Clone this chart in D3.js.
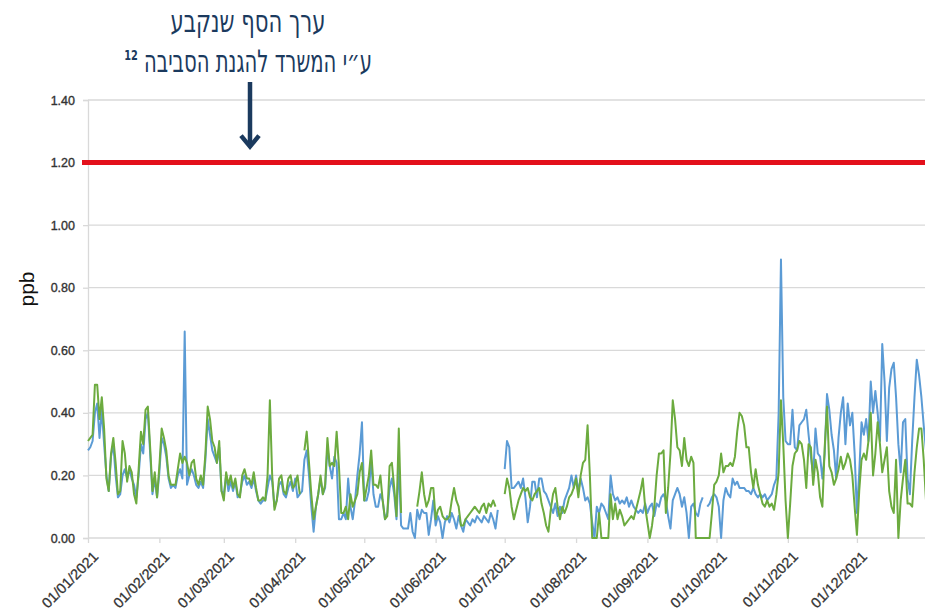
<!DOCTYPE html>
<html><head><meta charset="utf-8">
<script src="https://cdn.jsdelivr.net/npm/d3@7"></script>
<style>body{margin:0;background:#fff;} svg{display:block;font-family:"Liberation Sans",Arial,sans-serif;}</style>
</head><body><svg id="c" width="925" height="611"></svg>
<script>
// ---------------- data ----------------
const startDate = "2021-01-01";
const monthTicks = ["2021-01-01","2021-02-01","2021-03-01","2021-04-01","2021-05-01","2021-06-01",
                    "2021-07-01","2021-08-01","2021-09-01","2021-10-01","2021-11-01","2021-12-01"];
const yTicks = [0, 0.2, 0.4, 0.6, 0.8, 1.0, 1.2, 1.4];
const thresholdValue = 1.2;
const yLabel = "ppb";
const annotationLines = ["ערך הסף שנקבע", "ע״י המשרד להגנת הסביבה"];
const annotationNote = "12";

// daily values, one row per month (null = no data)
const blueSeries = [
  0.28,0.29,0.31,0.40,0.43,0.32,0.41,0.30,0.20,0.15,0.26,0.30,0.20,0.13,0.14,0.20,0.22,0.19,0.22,0.19,0.17,0.13,0.20,0.30,0.27,0.38,0.40,0.27,0.14,0.19,0.13,
  0.21,0.32,0.30,0.26,0.19,0.16,0.17,0.16,0.20,0.22,0.19,0.66,0.17,0.20,0.22,0.20,0.17,0.16,0.18,0.16,0.25,0.38,0.33,0.28,0.26,0.24,0.29,0.15,
  0.14,0.20,0.15,0.18,0.15,0.18,0.13,0.14,0.18,0.20,0.17,0.18,0.16,0.19,0.15,0.12,0.11,0.12,0.12,0.16,0.20,0.18,0.10,0.12,0.17,0.18,0.14,0.13,0.16,0.18,0.15,
  0.19,0.13,0.14,0.15,0.25,0.28,0.20,0.10,0.02,0.10,0.14,0.19,0.14,0.16,0.29,0.23,0.19,0.26,0.24,0.06,0.06,0.08,0.06,0.19,0.10,0.06,0.12,0.20,0.27,0.37,
  0.12,0.12,0.15,0.25,0.14,0.10,0.10,0.14,0.12,0.06,0.08,0.16,0.19,0.14,0.06,0.24,0.04,0.03,0.03,0.03,0.08,0.02,0.00,0.09,0.06,0.09,0.08,0.08,0.01,0.06,0.12,
  0.04,0.07,0.05,0.00,0.05,0.07,0.05,0.08,0.06,0.03,0.07,0.04,0.02,0.06,0.05,0.04,0.06,0.05,0.07,0.06,0.05,0.07,0.06,0.05,0.08,0.06,0.03,0.09,null,null,
  0.22,0.31,0.29,0.16,0.16,0.17,0.18,0.16,0.19,0.13,0.05,0.10,0.18,0.18,0.13,0.19,0.19,0.15,0.14,0.12,0.10,0.08,0.11,0.07,0.10,0.08,0.12,0.14,0.16,0.20,0.16,
  0.20,0.15,0.19,0.16,0.12,0.13,0.11,0.05,0.00,0.10,0.08,0.11,0.10,0.08,0.06,0.20,0.14,0.12,0.13,0.11,0.12,0.11,0.13,0.10,0.12,0.10,0.09,0.08,0.09,0.08,0.11,
  0.08,0.10,0.11,0.07,0.11,0.10,0.13,0.14,0.12,0.07,0.03,0.12,0.14,0.16,0.14,0.10,0.13,0.08,0.00,0.10,0.11,0.08,0.07,0.11,0.13,null,0.10,0.11,0.13,0.14,
  0.13,0.10,0.00,0.12,0.16,0.14,0.13,0.19,0.17,0.18,0.16,0.16,0.16,0.15,0.15,0.14,0.16,0.14,0.13,0.14,0.13,0.14,0.12,0.13,0.14,0.17,0.19,0.40,0.89,0.45,0.31,
  0.30,0.30,0.41,0.29,0.28,0.36,0.37,0.38,0.41,0.33,0.26,0.20,0.35,0.27,0.26,0.19,0.27,0.46,0.41,0.33,0.28,0.19,0.32,0.40,0.45,0.30,0.43,0.36,0.40,0.27,
  0.08,0.21,0.37,0.33,0.38,0.31,0.50,0.40,0.47,0.40,0.31,0.62,0.50,0.31,0.48,0.54,0.56,0.45,0.30,0.21,0.37,0.38,0.19,0.14,0.31,0.45,0.57,0.52,0.45,0.36,0.28
];
const greenSeries = [
  0.31,0.32,0.33,0.49,0.49,0.38,0.45,0.35,0.19,0.15,0.27,0.32,0.24,0.14,0.15,0.31,0.27,0.18,0.23,0.21,0.14,0.11,0.22,0.34,0.30,0.41,0.42,0.29,0.15,0.21,0.13,
  0.23,0.35,0.32,0.28,0.20,0.17,0.17,0.17,0.22,0.27,0.24,0.26,0.24,0.20,0.24,0.25,0.19,0.17,0.20,0.17,0.27,0.42,0.38,0.31,0.29,0.24,0.31,0.15,
  0.12,0.21,0.17,0.20,0.16,0.19,0.14,0.13,0.20,0.22,0.19,0.19,0.17,0.21,0.16,0.12,0.12,0.13,0.12,0.20,0.44,0.20,0.09,0.12,0.19,0.20,0.15,0.14,0.19,0.20,0.16,
  0.17,0.20,0.14,null,0.28,0.34,0.24,0.14,0.06,0.10,0.14,0.20,0.14,0.17,0.32,0.23,0.24,0.23,0.34,0.23,0.08,0.08,0.10,0.06,0.14,0.10,0.12,0.14,0.21,0.24,
  0.12,0.16,0.20,0.28,0.17,0.17,0.16,0.20,0.12,0.06,0.07,0.23,0.24,0.16,0.07,0.35,0.08,null,null,null,null,null,null,0.10,0.15,0.21,0.14,0.10,0.12,0.16,0.16,
  0.06,0.09,0.10,0.07,0.06,0.06,0.07,0.12,0.16,0.12,0.10,0.04,0.04,0.06,0.07,0.08,0.09,0.10,0.09,0.08,0.10,0.11,0.08,0.11,0.10,0.12,0.10,null,null,null,
  0.14,0.19,0.16,0.10,0.06,0.09,0.12,0.14,0.16,0.15,0.16,0.13,0.12,0.14,0.15,0.16,0.11,0.08,0.04,0.02,0.09,0.14,0.16,0.10,0.06,0.10,0.08,0.10,0.13,0.14,0.16,
  0.19,0.13,0.20,0.24,0.25,0.36,0.20,0.00,0.00,0.00,0.08,0.00,0.00,0.00,0.00,0.14,0.06,0.11,0.06,0.09,0.07,0.04,0.05,0.06,0.07,0.06,0.09,0.12,0.15,0.19,0.10,
  0.05,0.00,0.04,0.10,0.20,0.27,0.27,0.28,0.08,0.16,0.27,0.44,0.38,0.29,0.28,0.23,0.32,0.25,0.23,0.26,0.24,0.00,0.00,0.00,0.00,0.00,0.00,0.00,0.08,0.17,
  0.18,0.20,0.27,0.21,0.23,0.23,0.24,0.23,0.26,0.34,0.40,0.39,0.36,0.29,0.29,0.21,0.16,0.22,0.17,0.14,0.11,0.10,0.12,0.10,0.11,0.09,0.14,0.21,0.44,0.30,0.12,
  0.00,0.11,0.23,0.27,0.28,0.31,0.30,0.25,0.16,0.30,0.29,0.17,0.25,0.21,0.13,0.10,0.29,0.42,0.23,0.21,0.17,0.19,0.22,0.26,0.22,0.24,0.27,0.25,0.20,0.10,
  0.01,0.15,0.25,0.27,0.25,0.31,0.40,0.20,0.27,0.37,0.30,0.21,0.25,0.29,0.15,0.10,0.08,0.25,0.00,0.12,0.19,0.25,0.11,0.11,0.10,0.21,0.29,0.35,0.35,0.25,0.12
];

// ---------------- chart ----------------
const svg = d3.select("#c");
const parse = d3.timeParse("%Y-%m-%d");
const t0 = parse(startDate);
const x = d3.scaleTime().domain([t0, d3.timeDay.offset(t0, 364)]).range([88, 926]);
const y = d3.scaleLinear().domain([0, 1.4]).range([538, 100]);
const [x0, x1] = x.range();

const gridColor = "#d9d9d9";
const labelColor = "#333";
// gridlines
svg.append("g").selectAll("line").data(yTicks).join("line")
  .attr("x1", x0).attr("x2", x1)
  .attr("y1", d => y(d)).attr("y2", d => y(d))
  .attr("stroke", gridColor).attr("stroke-width", 1.3);

// y axis
const yAxis = svg.append("g").attr("transform", `translate(${x0},0)`)
  .call(d3.axisLeft(y).tickValues(yTicks).tickFormat(d3.format(".2f")).tickSize(5).tickPadding(8));
yAxis.select(".domain").attr("stroke", gridColor).attr("stroke-width", 1.3);
yAxis.selectAll(".tick line").attr("stroke", gridColor).attr("stroke-width", 1.3);
yAxis.selectAll(".tick text").attr("font-size", 12.5).attr("fill", labelColor)
  .attr("stroke", labelColor).attr("stroke-width", 0.35)
  .attr("font-family", "'Liberation Sans', Arial, sans-serif");

// x axis
const monthDates = monthTicks.map(parse);
const xAxis = svg.append("g").attr("transform", `translate(0,${y(0)})`)
  .call(d3.axisBottom(x).tickValues(monthDates).tickFormat(d3.timeFormat("%d/%m/%Y")).tickSize(5));
xAxis.select(".domain").remove();
xAxis.selectAll(".tick line").attr("stroke", gridColor).attr("stroke-width", 1.3);
xAxis.selectAll(".tick text")
  .attr("font-size", 14.5).attr("fill", labelColor)
  .attr("stroke", labelColor).attr("stroke-width", 0.3)
  .attr("font-family", "'Liberation Sans', Arial, sans-serif")
  .attr("text-anchor", "end")
  .attr("transform", "translate(7,16) rotate(-45)")
  .attr("dy", "0.35em").attr("y", 0);

// threshold line
svg.append("line")
  .attr("x1", x0 - 6).attr("x2", x1)
  .attr("y1", y(thresholdValue)).attr("y2", y(thresholdValue))
  .attr("stroke", "#e3101b").attr("stroke-width", 5);

// series
function toPoints(vals) {
  return vals.map((v, i) => ({ date: d3.timeDay.offset(t0, i), v }));
}
const line = d3.line().defined(d => d.v != null).x(d => x(d.date)).y(d => y(d.v));
svg.append("path").datum(toPoints(blueSeries))
  .attr("d", line).attr("fill", "none").attr("stroke", "#5b9bd5")
  .attr("stroke-width", 2).attr("stroke-linejoin", "round");
svg.append("path").datum(toPoints(greenSeries))
  .attr("d", line).attr("fill", "none").attr("stroke", "#6cab3f")
  .attr("stroke-width", 2).attr("stroke-linejoin", "round");

// y label
svg.append("text").attr("transform", "translate(34,289) rotate(-90)")
  .attr("text-anchor", "middle").attr("font-size", 21).attr("fill", "#111")
  .text(yLabel);

// annotation: condensed text via horizontal scale to a target width
const navy = "#1b3a5e";
const ann = svg.append("g").attr("fill", navy)
  .attr("font-family", "'DejaVu Sans', 'Liberation Sans', sans-serif");
function condensed(str, cx, baseY, size, width) {
  const t = ann.append("text").attr("font-size", size)
    .attr("text-anchor", "middle").attr("direction", "rtl").text(str);
  const natural = t.node().getComputedTextLength();
  const sx = width / natural;
  t.attr("transform", `translate(${cx},${baseY}) scale(${sx},1)`);
  return t;
}
condensed(annotationLines[0], 248, 32, 31, 155);
condensed(annotationLines[1], 258, 72, 31, 228);
ann.append("text").attr("font-size", 14).attr("font-weight", "bold")
  .attr("text-anchor", "middle")
  .attr("transform", "translate(131,60) scale(0.7,1)")
  .text(annotationNote);

// arrow
const ax = 250, arrowTip = y(thresholdValue) - 16;
svg.append("line").attr("x1", ax).attr("x2", ax).attr("y1", 82).attr("y2", arrowTip - 1)
  .attr("stroke", navy).attr("stroke-width", 4.5);
svg.append("polyline")
  .attr("points", `${ax - 9},${arrowTip - 11} ${ax},${arrowTip} ${ax + 9},${arrowTip - 11}`)
  .attr("fill", "none").attr("stroke", navy).attr("stroke-width", 4.5);
</script>
</body></html>
